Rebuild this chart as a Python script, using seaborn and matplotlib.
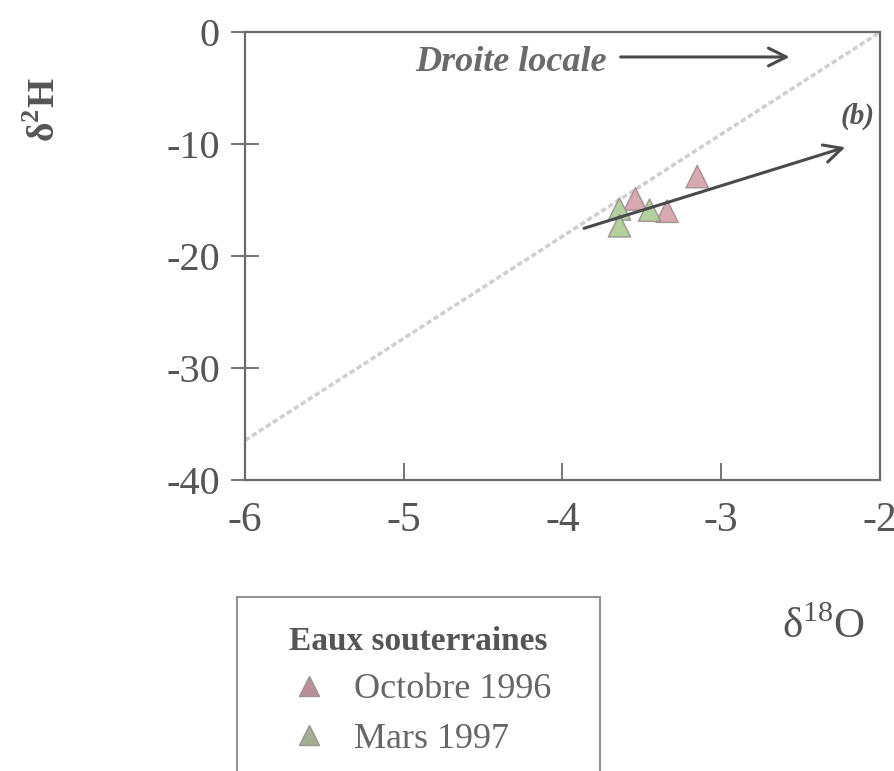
import numpy as np
import pandas as pd
import matplotlib
matplotlib.use("Agg")
import matplotlib.pyplot as plt
import seaborn as sns
from matplotlib.lines import Line2D

# ---- data ----
series_names = ["Octobre 1996", "Mars 1997"]
oct_o18 = [-3.15, -3.54, -3.34]
oct_h2 = [-12.9, -14.9, -16.0]
mar_o18 = [-3.64, -3.64, -3.45]
mar_h2 = [-15.8, -17.3, -15.9]

line_o18 = [-6.0, -2.0]          # droite locale
line_h2 = [-36.5, 0.0]

trend_o18 = [-3.88, -2.2]        # arrow (b)
trend_h2 = [-17.6, -10.2]

x_ticks = [-6, -5, -4, -3, -2]
y_ticks = [0, -10, -20, -30, -40]

df = pd.DataFrame({
    "o18": oct_o18 + mar_o18,
    "h2": oct_h2 + mar_h2,
    "serie": [series_names[0]] * len(oct_o18) + [series_names[1]] * len(mar_o18),
})

sns.set_theme(style="white")
plt.rcParams["font.family"] = ["Liberation Serif", "DejaVu Serif"]
plt.rcParams["mathtext.fontset"] = "custom"
plt.rcParams["mathtext.rm"] = "Liberation Serif"
plt.rcParams["mathtext.bf"] = "Liberation Serif:bold"

txt = "#555555"
fig = plt.figure(figsize=(8.94, 7.71), dpi=100)
ax = fig.add_axes([0.274, 0.378, 0.710, 0.580])

# local meteoric line
ax.plot(line_o18, line_h2, color="#d0d0d0", lw=2.6, ls=(0, (1.5, 0.8)), zorder=1)

palette = {series_names[0]: "#d4a0a8", series_names[1]: "#a9cc92"}
sns.scatterplot(data=df, x="o18", y="h2", hue="serie", palette=palette,
                marker="^", s=260, edgecolor="#9c8c8c", linewidth=1.0,
                alpha=0.9, ax=ax, legend=False, zorder=3)

# arrow (b)
ax.annotate("", xy=(trend_o18[1], trend_h2[1]), xytext=(trend_o18[0], trend_h2[0]),
            arrowprops=dict(arrowstyle="->", lw=2.2, color="#4a4a4a",
                            mutation_scale=32), zorder=4)
ax.text(-2.14, -7.5, "(b)", fontsize=21, fontstyle="italic", fontweight="bold",
        color=txt, ha="center", va="center")

# droite locale label + arrow
ax.text(-3.72, -2.7, "Droite locale", fontsize=26, fontstyle="italic",
        fontweight="bold", color="#6a6a6a", ha="right", va="center")
ax.annotate("", xy=(-2.55, -2.2), xytext=(-3.65, -2.2),
            arrowprops=dict(arrowstyle="->", lw=2.2, color="#4a4a4a",
                            mutation_scale=32))

ax.set_xlim(-6, -2)
ax.set_ylim(-40, 0)
ax.set_xticks(x_ticks)
ax.set_yticks(y_ticks)
ax.set_xticklabels([str(v) for v in x_ticks])
ax.set_yticklabels([str(v) for v in y_ticks])
ax.set_xlabel("")
ax.set_ylabel("")
for sp in ax.spines.values():
    sp.set_color("#6a6a6a")
    sp.set_linewidth(1.6)
ax.tick_params(axis="y", direction="inout", length=20, width=1.3, color="#6a6a6a",
               labelsize=29, labelcolor=txt, pad=8, left=True)
ax.tick_params(axis="x", direction="in", length=12, width=1.3, color="#6a6a6a",
               labelsize=30, labelcolor=txt, pad=16, bottom=True)

# axis labels
fig.text(45 / 894, 1 - 110 / 771, r"δ$^{\mathregular{2}}$H", rotation=90,
         fontsize=27, fontweight="bold", color=txt, ha="center", va="center")
fig.text(824 / 894, 1 - 627 / 771, r"δ$^{\mathregular{18}}$O",
         fontsize=31, color=txt, ha="center", va="center")

# legend
handles = [Line2D([], [], marker="^", ls="", markersize=14,
                  markerfacecolor=c, markeredgecolor="#a09090")
           for c in ["#b89098", "#a2b090"]]
leg = fig.legend(handles, series_names, loc="upper left",
                 bbox_to_anchor=(237 / 894, 1 - 597 / 771, 363 / 894, 0.0),
                 mode="expand",
                 title="Eaux souterraines", fontsize=26, title_fontsize=24,
                 frameon=True, fancybox=False, edgecolor="#777777",
                 borderpad=0.8, labelspacing=0.45, handletextpad=0.05,
                 handlelength=2.4, borderaxespad=0)
leg.get_title().set_fontweight("bold")
leg.get_title().set_color("#555555")
for t in leg.get_texts():
    t.set_color("#666666")
leg.get_frame().set_linewidth(1.5)

fig.savefig("out.png", dpi=100)
